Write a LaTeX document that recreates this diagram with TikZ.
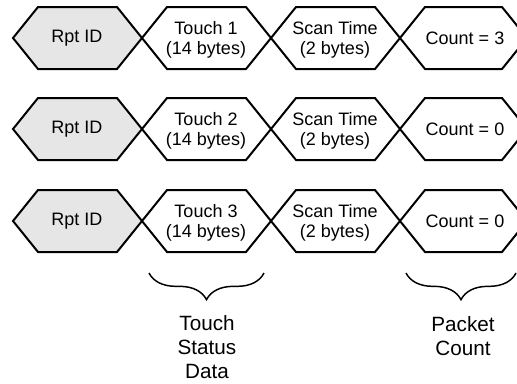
\documentclass[tikz,border=0pt]{standalone}
\usepackage{fontspec}
\setmainfont{Liberation Sans}
\usetikzlibrary{decorations.pathreplacing}
\definecolor{idgray}{RGB}{230,230,230}
% one field of a packet: left tip, right tip, middle y, extra style
\newcommand{\hexfield}[4]{%
  \draw[hexline,#4] (#1,#3) -- (#1+25,#3-31) -- (#2-25,#3-31) -- (#2,#3)
    -- (#2-25,#3+31) -- (#1+25,#3+31) -- cycle;}
\tikzset{
  hexline/.style={line width=1.5pt, line join=miter},
  fieldtext/.style={font=\fontsize{13.5}{15.5}\selectfont, align=center},
  notetext/.style={font=\fontsize{15.5}{18}\selectfont, align=center},
  under/.style={decorate, decoration={brace, amplitude=20pt}, line width=1.1pt}
}
\begin{document}
\begin{tikzpicture}[x=0.75pt, y=-0.75pt]
  \useasboundingbox (0,0) rectangle (517,383);
  % three packets
  \foreach \y/\n/\c in {38/1/3, 129/2/0, 221/3/0} {
    \hexfield{13}{142}{\y}{fill=idgray}
    \hexfield{142}{271}{\y}{}
    \hexfield{271}{400}{\y}{}
    \hexfield{400}{527}{\y}{}
    \node[fieldtext] (rpt\n) at (77,\y) {Rpt ID};
    \node[fieldtext] (touch\n) at (206,\y+2) {Touch \n\\(14 bytes)};
    \node[fieldtext] (scan\n) at (335,\y+2) {Scan Time\\(2 bytes)};
    \node[fieldtext] (count\n) at (465,\y) {Count = \c};
  }
  % braces and notes
  \coordinate (b1r) at (264,273);
  \coordinate (b1l) at (149,273);
  \coordinate (b2r) at (516,273);
  \coordinate (b2l) at (406,273);
  \draw[under] (b1r) -- (b1l);
  \draw[under] (b2r) -- (b2l);
  \node[notetext] (status) at (207,347) {Touch\\Status\\Data};
  \node[notetext] (packet) at (463,336) {Packet\\Count};
\end{tikzpicture}
\end{document}
